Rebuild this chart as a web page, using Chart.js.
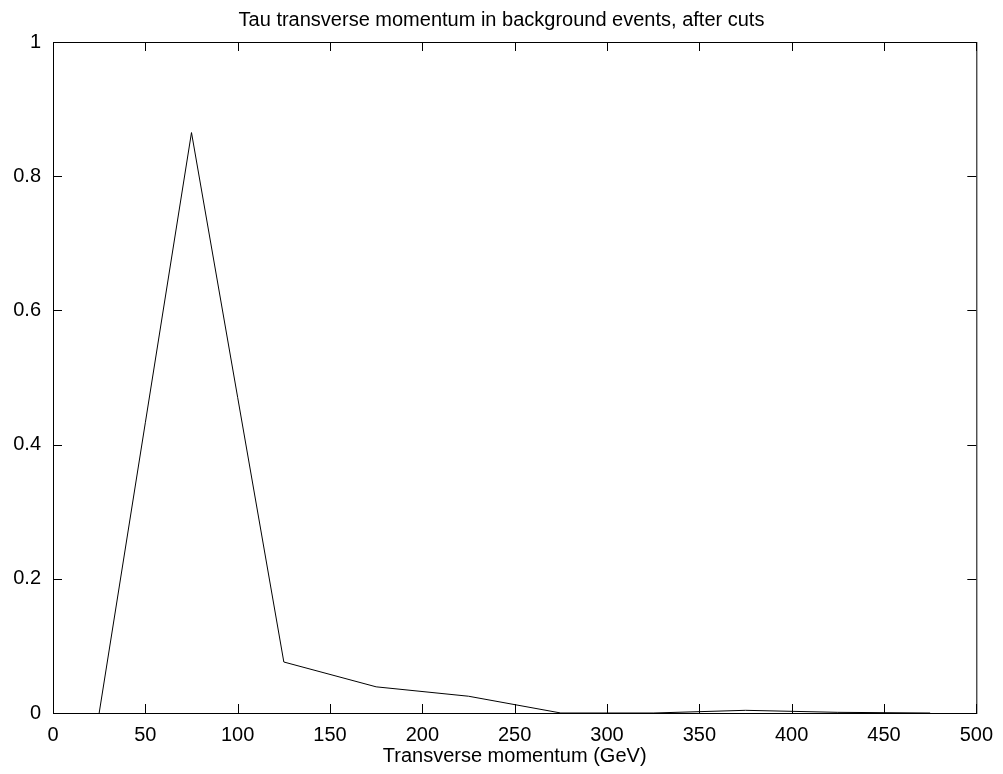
<!DOCTYPE html>
<html>
  <head>
    <script src="https://cdn.jsdelivr.net/npm/chart.js@4.4.0/dist/chart.umd.min.js"></script>
    <style>
      html, body { margin: 0; padding: 0; background: #fff; }
      #wrap { width: 1003px; height: 774px; }
    </style>
  </head>
  <body>
    <div id="wrap">
      <canvas id="myChart" width="1003" height="774"></canvas>
    </div>

    <script>
      // bin centres (GeV) and normalised tau pT distribution
      const momentum = [25, 75, 125, 175, 225, 275, 325, 375, 425, 475];
      const fraction = [0, 0.865, 0.076, 0.039, 0.025, 0, 0, 0.004, 0.001, 0];

      const xTicks = [0, 50, 100, 150, 200, 250, 300, 350, 400, 450, 500];
      const yTicks = [0, 0.2, 0.4, 0.6, 0.8, 1];

      const FONT = "'Liberation Sans', Arial, sans-serif";

      // gnuplot-ish frame with inward, mirrored ticks
      const frame = {
        id: "frame",
        afterDraw(chart) {
          const { ctx, chartArea: a, scales } = chart;
          const TICK = 9;
          ctx.save();
          ctx.strokeStyle = "#000";
          ctx.lineWidth = 1;
          ctx.strokeRect(a.left + 0.5, a.top + 0.5, a.width, a.height);
          ctx.beginPath();
          xTicks.forEach((v) => {
            const px = Math.round(scales.x.getPixelForValue(v)) + 0.5;
            ctx.moveTo(px, a.bottom);
            ctx.lineTo(px, a.bottom - TICK);
            ctx.moveTo(px, a.top);
            ctx.lineTo(px, a.top + TICK);
          });
          yTicks.forEach((v) => {
            const py = Math.round(scales.y.getPixelForValue(v)) + 0.5;
            ctx.moveTo(a.left, py);
            ctx.lineTo(a.left + TICK, py);
            ctx.moveTo(a.right, py);
            ctx.lineTo(a.right - TICK, py);
          });
          ctx.stroke();
          ctx.restore();
        },
      };

      const config = {
        type: "line",
        data: {
          datasets: [
            {
              label: "tau pT",
              data: momentum.map((m, i) => ({ x: m, y: fraction[i] })),
              borderColor: "#000",
              borderWidth: 1,
              pointRadius: 0,
              tension: 0,
              fill: false,
            },
          ],
        },
        plugins: [frame],
        options: {
          responsive: false,
          animation: false,
          layout: { padding: 0 },
          scales: {
            x: {
              type: "linear",
              min: 0,
              max: 500,
              afterBuildTicks: (s) => { s.ticks = xTicks.map((v) => ({ value: v })); },
              afterFit: (s) => { s.height = 61; },
              grid: { display: false, drawTicks: false },
              border: { display: false },
              ticks: { color: "#000", padding: 10, maxRotation: 0, font: { family: FONT, size: 20 } },
              title: {
                display: true,
                text: "Transverse momentum (GeV)",
                color: "#000",
                padding: { top: 0, bottom: 6 },
                font: { family: FONT, size: 20 },
              },
            },
            y: {
              min: 0,
              max: 1,
              afterBuildTicks: (s) => { s.ticks = yTicks.map((v) => ({ value: v })); },
              afterFit: (s) => { s.width = 53; },
              grid: { display: false, drawTicks: false },
              border: { display: false },
              ticks: {
                color: "#000",
                padding: 12,
                font: { family: FONT, size: 20 },
                callback: (v) => String(+v.toFixed(1)),
              },
            },
            // empty right-hand axis: keeps the right margin while the title stays canvas-centred
            yRight: {
              position: "right",
              min: 0,
              max: 1,
              afterFit: (s) => { s.width = 26; },
              grid: { display: false, drawTicks: false },
              border: { display: false },
              ticks: { display: false },
            },
          },
          plugins: {
            legend: { display: false },
            tooltip: { enabled: false },
            title: {
              display: true,
              text: "Tau transverse momentum in background events, after cuts",
              color: "#000",
              font: { family: FONT, size: 20, weight: "normal" },
              padding: { top: 8, bottom: 10 },
            },
          },
        },
      };

      const myChart = new Chart(document.getElementById("myChart"), config);
    </script>
  </body>
</html>
